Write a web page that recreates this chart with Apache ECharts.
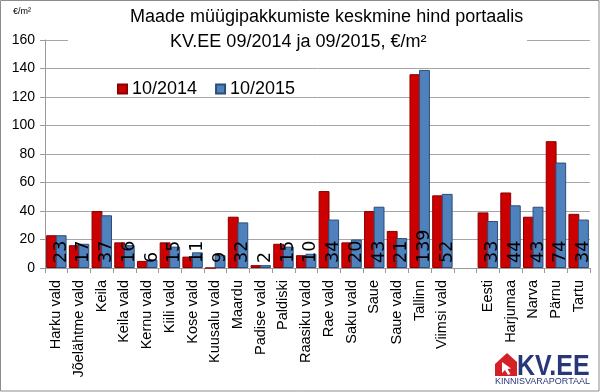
<!DOCTYPE html>
<html>
<head>
<meta charset="utf-8">
<script src="https://cdn.jsdelivr.net/npm/echarts@6/dist/echarts.min.js"></script>
<style>html,body{margin:0;padding:0;background:#fff}#c{width:600px;height:392px}</style>
</head>
<body>
<div id="c"></div>
<script>
const categories = ['Harku vald','Jõelähtme vald','Keila','Keila vald','Kernu vald','Kiili vald','Kose vald','Kuusalu vald','Maardu','Padise vald','Paldiski','Raasiku vald','Rae vald','Saku vald','Saue','Saue vald','Tallinn','Viimsi vald','','Eesti','Harjumaa','Narva','Pärnu','Tartu'];
const values2014 = [23,16,40,18,5,18,8,0,36,2,17,9,54,18,40,26,136,51,'-',39,53,36,89,38];
const values2015 = [23,17,37,16,6,15,11,9,32,2,15,10,34,20,43,21,139,52,'-',33,44,43,74,34];
const seriesNames = ['10/2014','10/2015'];
const yTicks = {min:0, max:160, interval:20};
const titleLines = ['Maade müügipakkumiste keskmine hind portaalis','KV.EE 09/2014 ja 09/2015, €/m²'];
const unitText = '€/m²';

const chart = echarts.init(document.getElementById('c'), null, {renderer:'canvas'});
const F = 'Liberation Sans, Arial, sans-serif';
chart.setOption({
  animation:false,
  backgroundColor:'#fff',
  title:[
    {text:titleLines[0], left:130, top:8, padding:0, textStyle:{fontFamily:F,fontSize:18,fontWeight:'normal',color:'#000'}},
    {text:titleLines[1], left:170, top:33, padding:0, textStyle:{fontFamily:F,fontSize:18,fontWeight:'normal',color:'#000'}}
  ],
  legend:{
    data:seriesNames, left:112, top:75, itemWidth:9, itemHeight:9, itemGap:18, icon:'rect',
    textStyle:{fontFamily:F,fontSize:18,color:'#000'}
  },
  grid:{left:45, right:10, top:40, bottom:124, containLabel:false},
  xAxis:{
    type:'category', data:categories,
    axisLine:{lineStyle:{color:'#9a9a9a'}},
    axisTick:{show:true, interval:0, length:5, lineStyle:{color:'#9a9a9a'}},
    axisLabel:{interval:0, rotate:90, margin:12, fontFamily:F, fontSize:14.5, color:'#000'}
  },
  yAxis:{
    type:'value', min:yTicks.min, max:yTicks.max, interval:yTicks.interval,
    axisLine:{show:true, lineStyle:{color:'#9a9a9a'}},
    axisTick:{show:true, length:5, lineStyle:{color:'#9a9a9a'}},
    splitLine:{lineStyle:{color:'#a6a6a6'}},
    axisLabel:{margin:10, fontFamily:F, fontSize:14, color:'#000'}
  },
  series:[
    {name:seriesNames[0], type:'bar', data:values2014, barCategoryGap:'10%', barGap:'-12%',
     itemStyle:{color:'#cc0000', borderColor:'#8a0000', borderWidth:1}},
    {name:seriesNames[1], type:'bar', data:values2015,
     itemStyle:{color:'#4f81bd', borderColor:'#2c4d75', borderWidth:1},
     label:{show:true, position:'insideBottom', rotate:90, align:'left', verticalAlign:'middle', distance:5,
            fontFamily:'DejaVu Sans, sans-serif', fontSize:17.5, color:'#000'}}
  ],
  graphic:[
    {type:'rect', z:5, shape:{x:68, y:36, width:459, height:8}, style:{fill:'#fff'}},
    {type:'text', left:13, top:7, z:6, style:{text:unitText, font:'9px Liberation Sans, Arial', fill:'#000'}},
    {type:'rect', z:10, shape:{x:0.5, y:0.5, width:598.5, height:390.5}, style:{fill:'none', stroke:'#8c8c8c', lineWidth:1}},
    {type:'polygon', z:10, shape:{points:[[495,364],[507,353],[517,362],[517,376],[495,376]]}, style:{fill:'#d42027'}},
    {type:'polygon', z:11, shape:{points:[[502,362],[502,373],[505,370],[508,375],[510.5,374],[507.5,369],[511,368.5]]}, style:{fill:'#fff'}},
    {type:'text', z:10, x:517, y:352, scaleX:0.86, style:{text:'KV.EE', font:'bold 29px Liberation Sans, Arial', fill:'#28367a'}},
    {type:'text', z:10, x:495, y:377, style:{text:'KINNISVARAPORTAAL', font:'9px Liberation Sans, Arial', fill:'#28367a'}}
  ]
});
</script>
</body>
</html>
